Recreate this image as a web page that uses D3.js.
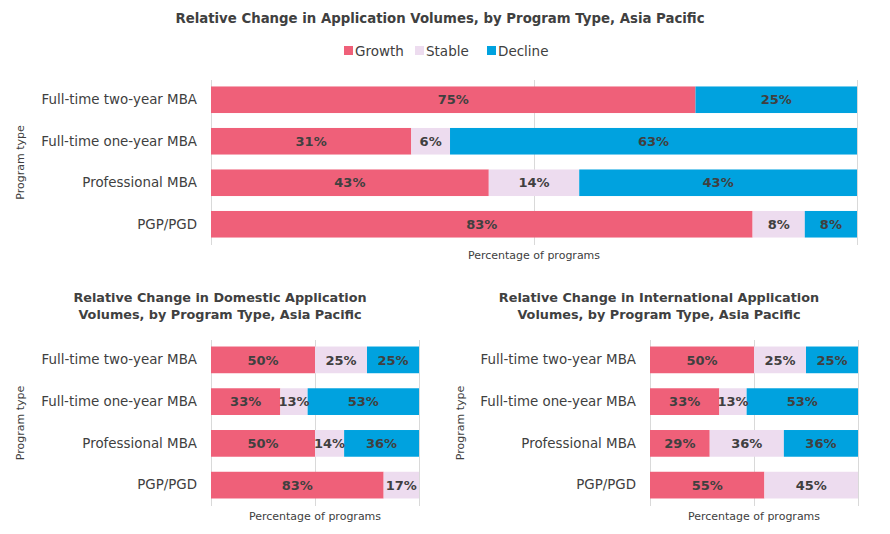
<!DOCTYPE html>
<html><head><meta charset="utf-8">
<script src="https://cdn.jsdelivr.net/npm/d3@7"></script>
<style>
body{margin:0;background:#fff;}
svg{display:block;font-family:"DejaVu Sans",Verdana,sans-serif;}
</style></head>
<body><svg id="c" width="890" height="534"></svg>
<script>
const categories = ["Full-time two-year MBA","Full-time one-year MBA","Professional MBA","PGP/PGD"];
const seriesNames = ["Growth","Stable","Decline"];
const colors = ["#EF6079","#EDDCEF","#00A2DF"];

// Overall
const overallGrowth  = [75,31,43,83];
const overallStable  = [0,6,14,8];
const overallDecline = [25,63,43,8];
// Domestic
const domesticGrowth  = [50,33,50,83];
const domesticStable  = [25,13,14,17];
const domesticDecline = [25,53,36,0];
// International
const intlGrowth  = [50,33,29,55];
const intlStable  = [25,13,36,45];
const intlDecline = [25,53,36,0];

const titles = {
  top: ["Relative Change in Application Volumes, by Program Type, Asia Pacific"],
  dom: ["Relative Change in Domestic Application","Volumes, by Program Type, Asia Pacific"],
  intl: ["Relative Change in International Application","Volumes, by Program Type, Asia Pacific"]
};
const xTicks = [0,50,100];
const xLabel = "Percentage of programs";
const yLabel = "Program type";

const svg = d3.select("#c");

function drawChart(o){
  const g = svg.append("g");
  const rows = categories.map((c,i)=>{
    const vals = [o.g[i],o.s[i],o.d[i]];
    const tot = d3.sum(vals);
    let acc = 0;
    return {cat:c, segs: vals.map((v,k)=>{const s={k,v,x0:acc/tot*100,x1:(acc+v)/tot*100}; acc+=v; return s;})};
  });
  const x = d3.scaleLinear().domain([0,100]).range([o.x0,o.x1]);
  const y = d3.scaleBand().domain(categories).range([o.y0,o.y1]).paddingInner(0.36).paddingOuter(0.18);
  g.selectAll("line.grid").data(xTicks).join("line")
    .attr("x1",d=>x(d)).attr("x2",d=>x(d)).attr("y1",o.gy0).attr("y2",o.gy1)
    .attr("stroke","#d9d9d9").attr("stroke-width",1).attr("shape-rendering","crispEdges");
  const rg = g.selectAll("g.row").data(rows).join("g").attr("transform",d=>`translate(0,${y(d.cat)})`);
  rg.selectAll("rect").data(d=>d.segs.filter(s=>s.v>0)).join("rect")
    .attr("x",s=>x(s.x0)).attr("width",s=>x(s.x1)-x(s.x0)).attr("y",0).attr("height",y.bandwidth())
    .attr("fill",s=>colors[s.k]);
  rg.selectAll("text").data(d=>d.segs.filter(s=>s.v>0)).join("text")
    .attr("x",s=>(x(s.x0)+x(s.x1))/2).attr("y",y.bandwidth()/2).attr("dy","0.36em")
    .attr("text-anchor","middle").attr("font-size",o.valSize).attr("font-weight","bold")
    .attr("fill","#404040").text(s=>s.v+"%");
  const ya = d3.axisLeft(y).tickSize(0).tickPadding(o.labPad);
  const yg = g.append("g").attr("transform",`translate(${o.x0},0)`).call(ya);
  yg.select(".domain").remove();
  yg.selectAll("text").attr("font-size",o.labSize).attr("fill","#404040").attr("font-family","DejaVu Sans, sans-serif");
  g.append("text").attr("x",x(50)).attr("y",o.xlY).attr("text-anchor","middle")
    .attr("font-size",11).attr("fill","#404040").text(xLabel);
  g.append("text").attr("transform",`translate(${o.ylX},${(o.gy0+o.gy1)/2}) rotate(-90)`)
    .attr("text-anchor","middle").attr("font-size",11).attr("fill","#404040").text(yLabel);
  o.title.forEach((t,i)=>{
    g.append("text").attr("x",o.tX).attr("y",o.tY+i*17).attr("text-anchor","middle")
      .attr("font-size",o.tSize).attr("font-weight","bold").attr("fill","#404040").text(t);
  });
}

drawChart({g:overallGrowth,s:overallStable,d:overallDecline,x0:211,x1:857,y0:79,y1:245,gy0:80,gy1:245,
  valSize:13,labSize:13.4,labPad:14,xlY:259,ylX:24,title:titles.top,tX:440,tY:23,tSize:13.3});
drawChart({g:domesticGrowth,s:domesticStable,d:domesticDecline,x0:211,x1:419,y0:339,y1:506,gy0:340,gy1:506,
  valSize:13,labSize:13.4,labPad:14,xlY:520,ylX:24,title:titles.dom,tX:220,tY:302,tSize:12.8});
drawChart({g:intlGrowth,s:intlStable,d:intlDecline,x0:650,x1:858,y0:339,y1:506,gy0:340,gy1:506,
  valSize:13,labSize:13.4,labPad:14,xlY:520,ylX:464,title:titles.intl,tX:659,tY:302,tSize:12.8});

const leg = svg.append("g").attr("transform","translate(0,51)");
const legX = [344,415,487];
seriesNames.forEach((n,i)=>{
  leg.append("rect").attr("x",legX[i]).attr("y",-5).attr("width",9).attr("height",9).attr("fill",colors[i]);
  leg.append("text").attr("x",legX[i]+11).attr("y",0).attr("dy","0.36em").attr("font-size",13.5)
    .attr("fill","#404040").text(n);
});
</script></body></html>
